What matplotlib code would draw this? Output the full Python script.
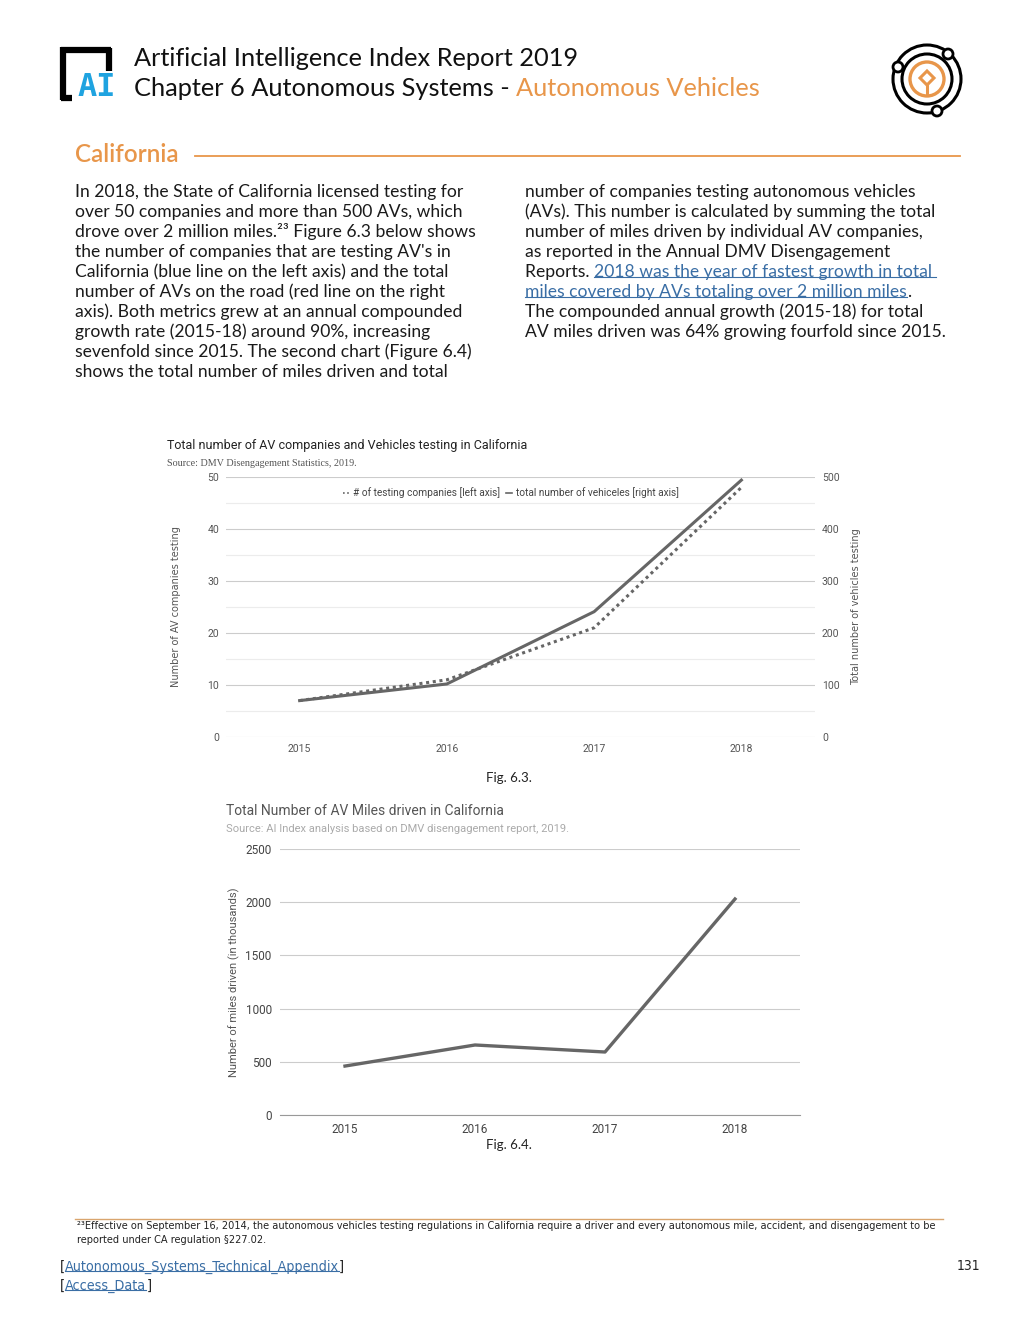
import matplotlib
matplotlib.use("Agg")
import matplotlib.pyplot as plt
from matplotlib.lines import Line2D
from matplotlib.patches import Circle, Polygon

# data
years = ["2015", "2016", "2017", "2018"]
companies = [7, 11, 21, 48]          # left axis
vehicles = [70, 102, 241, 494]       # right axis
miles_k = [460, 658, 592, 2030]      # thousands of miles

W, H = 1020, 1320
ORANGE = "#E8964A"
LINK = "#3A6EA5"
LINEC = "#666666"

left_col = [
    "In 2018, the State of California licensed testing for",
    "over 50 companies and more than 500 AVs, which",
    "drove over 2 million miles.\u00b2\u00b3 Figure 6.3 below shows",
    "the number of companies that are testing AV's in",
    "California (blue line on the left axis) and the total",
    "number of AVs on the road (red line on the right",
    "axis). Both metrics grew at an annual compounded",
    "growth rate (2015-18) around 90%, increasing",
    "sevenfold since 2015. The second chart (Figure 6.4)",
    "shows the total number of miles driven and total",
]
right_col = [
    "number of companies testing autonomous vehicles",
    "(AVs). This number is calculated by summing the total",
    "number of miles driven by individual AV companies,",
    "as reported in the Annual DMV Disengagement",
    None,
    None,
    "The compounded annual growth (2015-18) for total",
    "AV miles driven was 64% growing fourfold since 2015.",
]
footnote = ["\u00b2\u00b3Effective on September 16, 2014, the autonomous vehicles testing "
            "regulations in California require a driver and every autonomous mile, accident, "
            "and disengagement to be",
            "reported under CA regulation \u00a7227.02."]


def rect(l, t, r, b):
    return [l / W, 1 - b / H, (r - l) / W, (b - t) / H]


fig = plt.figure(figsize=(W / 100, H / 100), dpi=100)
bg = fig.add_axes([0, 0, 1, 1])
bg.set_xlim(0, W)
bg.set_ylim(H, 0)
bg.axis("off")

# ---- header ----
bg.plot([63, 63], [47, 100], color="black", lw=4.5, solid_capstyle="butt")
bg.plot([61, 111], [50, 50], color="black", lw=4.5, solid_capstyle="butt")
bg.plot([109, 109], [48, 71], color="black", lw=4.5, solid_capstyle="butt")
bg.plot([61, 72], [98, 98], color="black", lw=4.5, solid_capstyle="butt")
bg.text(97, 88, "AI", fontsize=23, fontweight="bold", family="DejaVu Sans Mono",
        color="#1FA3E0", ha="center", va="center")

HS = 18.3
hfont = dict(family="Lato", fontsize=HS, color="#111111")
bg.text(134, 58, "Artificial Intelligence Index Report 2019", va="center", **hfont)
h2 = bg.text(134, 88, "Chapter 6 Autonomous Systems - ", va="center", **hfont)
bg.annotate("Autonomous Vehicles", xy=(1, 0), xycoords=h2, va="bottom",
            family="Lato", fontsize=HS, color=ORANGE)

# icon
cx, cy = 927, 79
bg.add_patch(Circle((cx, cy), 34, fill=False, ec="black", lw=2.2))
bg.add_patch(Circle((cx, cy), 25, fill=False, ec="black", lw=2.2))
bg.add_patch(Circle((cx, cy), 17, fill=False, ec=ORANGE, lw=2.4))
for px, py in [(948, 54), (898, 67), (937, 111)]:
    bg.add_patch(Circle((px, py), 5, fc="white", ec="black", lw=2))
bg.add_patch(Polygon([(cx, 71), (cx + 7, 78), (cx, 85), (cx - 7, 78)],
                     closed=True, fill=False, ec=ORANGE, lw=2.2))
bg.plot([cx, cx], [85, 94], color=ORANGE, lw=2.2)

# section title
bg.text(75, 155, "California", family="Lato", fontsize=17.5, fontweight="semibold",
        color=ORANGE, va="center")
bg.plot([195, 960], [156, 156], color=ORANGE, lw=1.3)

# ---- body text ----
BS = 12.6
bfont = dict(family="Lato", fontsize=BS, color="#1a1a1a", va="center")
for i, line in enumerate(left_col):
    bg.text(75, 192 + 20 * i, line, **bfont)
for i, line in enumerate(right_col):
    if line is not None:
        bg.text(525, 192 + 20 * i, line, **bfont)
r5 = bg.text(525, 272, "Reports. ", **bfont)
lk1 = bg.annotate("2018 was the year of fastest growth in total ", xy=(1, 0), xycoords=r5,
                  va="bottom", family="Lato", fontsize=BS, color=LINK)
lk2 = bg.text(525, 292, "miles covered by AVs totaling over 2 million miles",
              family="Lato", fontsize=BS, color=LINK, va="center")
bg.annotate(".", xy=(1, 0), xycoords=lk2, va="bottom", family="Lato",
            fontsize=BS, color="#1a1a1a")

# ---- chart 1 ----
ax1 = fig.add_axes(rect(226, 477, 815, 737))
x = range(len(years))
ax1.plot(x, companies, color=LINEC, lw=2.2, ls=(0, (1, 1.2)))
ax1.set_xlim(-0.5, 3.5)
ax1.set_ylim(0, 50)
ax1.set_yticks(range(0, 51, 10))
ax1.set_yticks(range(5, 50, 10), minor=True)
ax1.set_xticks(list(x))
ax1.set_xticklabels(years)
ax1.grid(axis="y", which="major", color="#cccccc", lw=0.8)
ax1.grid(axis="y", which="minor", color="#ececec", lw=0.8)
ax1.set_axisbelow(True)
ax1.tick_params(length=0, labelsize=7.5, colors="#555555", pad=5)
ax1.tick_params(axis="y", which="minor", length=0)
for s in ax1.spines.values():
    s.set_visible(False)
ax1.set_ylabel("Number of AV companies testing", fontsize=7, color="#555555", labelpad=19)
for lab in ax1.get_xticklabels() + ax1.get_yticklabels():
    lab.set_family("Roboto")

ax1b = ax1.twinx()
ax1b.plot(x, vehicles, color=LINEC, lw=2.2)
ax1b.set_ylim(0, 500)
ax1b.set_yticks(range(0, 501, 100))
ax1b.tick_params(length=0, labelsize=7.5, colors="#555555", pad=5)
for s in ax1b.spines.values():
    s.set_visible(False)
ax1b.set_ylabel("Total number of vehicles testing", fontsize=7, color="#555555", labelpad=8)
for lab in ax1b.get_yticklabels():
    lab.set_family("Roboto")

handles = [Line2D([], [], color=LINEC, lw=1.2, ls=(0, (1, 1.5))),
           Line2D([], [], color=LINEC, lw=1.2)]
ax1b.legend(handles, ["# of testing companies [left axis]",
                      "total number of vehiceles [right axis]"],
            loc="center", bbox_to_anchor=(511 / W, 1 - 493 / H),
            bbox_transform=fig.transFigure, ncol=2, frameon=False,
            handlelength=0.6, handletextpad=0.4, columnspacing=0.6,
            prop=dict(family="Roboto", size=7.3))
for t in ax1b.get_legend().get_texts():
    t.set_color("#444444")

bg.text(167, 446, "Total number of AV companies and Vehicles testing in California",
        family="Roboto", fontsize=9, color="#222222", va="center")
bg.text(167, 463, "Source: DMV Disengagement Statistics, 2019.",
        family="Liberation Serif", fontsize=7.3, color="#555555", va="center")
bg.text(509, 778, "Fig. 6.3.", family="Lato", fontsize=9.5,
        color="#222222", ha="center", va="center")

# ---- chart 2 ----
ax2 = fig.add_axes(rect(280, 849, 800, 1115))
ax2.plot(range(len(years)), miles_k, color=LINEC, lw=2.4)
ax2.set_xlim(-0.5, 3.5)
ax2.set_ylim(0, 2500)
ax2.set_yticks(range(0, 2501, 500))
ax2.set_xticks(range(len(years)))
ax2.set_xticklabels(years)
ax2.grid(axis="y", color="#cccccc", lw=0.8)
ax2.set_axisbelow(True)
for s in ["top", "right", "left"]:
    ax2.spines[s].set_visible(False)
ax2.spines["bottom"].set_color("#999999")
ax2.tick_params(length=0, labelsize=8.5, colors="#444444", pad=6)
for lab in ax2.get_xticklabels() + ax2.get_yticklabels():
    lab.set_family("Roboto")
ax2.set_ylabel("Number of miles driven (in thousands)", fontsize=8, color="#555555",
               labelpad=4, family="Roboto")

bg.text(226, 811, "Total Number of AV Miles driven in California", family="Roboto",
        fontsize=10, color="#555555", va="center")
bg.text(226, 829, "Source: AI Index analysis based on DMV disengagement report, 2019.",
        family="Roboto", fontsize=8, color="#aaaaaa", va="center")
bg.text(509, 1145, "Fig. 6.4.", family="Lato", fontsize=9.5,
        color="#222222", ha="center", va="center")

# ---- footer ----
nfont = dict(family="DejaVu Sans", stretch="condensed")
bg.plot([75, 943], [1219, 1219], color="#D9A56E", lw=1)
fn1 = bg.text(77, 1226, footnote[0], fontsize=8, color="#222222", va="center", **nfont)
fn2 = bg.text(77, 1240, footnote[1], fontsize=8, color="#222222", va="center", **nfont)

links = []
for yy, name in [(1267, "Autonomous_Systems_Technical_Appendix"), (1286, "Access_Data")]:
    o = bg.text(60, yy, "[", fontsize=10.3, color="#222222", va="center", **nfont)
    l = bg.annotate(name, xy=(1, 0), xycoords=o, va="bottom", fontsize=10.3,
                    color=LINK, **nfont)
    bg.annotate("]", xy=(1, 0), xycoords=l, va="bottom", fontsize=10.3,
                color="#222222", **nfont)
    links.append(l)
bg.text(980, 1266, "131", fontsize=10, color="#222222", ha="right", va="center", **nfont)

# shrink the footnote so its first line fits the rule width
fig.canvas.draw()
rend = fig.canvas.get_renderer()
w = fn1.get_window_extent(rend).width
if w > 858:
    fs = 8 * 858 / w
    fn1.set_fontsize(fs)
    fn2.set_fontsize(fs)

# underline the links
fig.canvas.draw()
for t in [lk1, lk2] + links:
    bb = t.get_window_extent(rend)
    yy = H - bb.y0 - 3
    bg.plot([bb.x0, bb.x1], [yy, yy], color=LINK, lw=0.8)

fig.savefig("out.png", dpi=100)
